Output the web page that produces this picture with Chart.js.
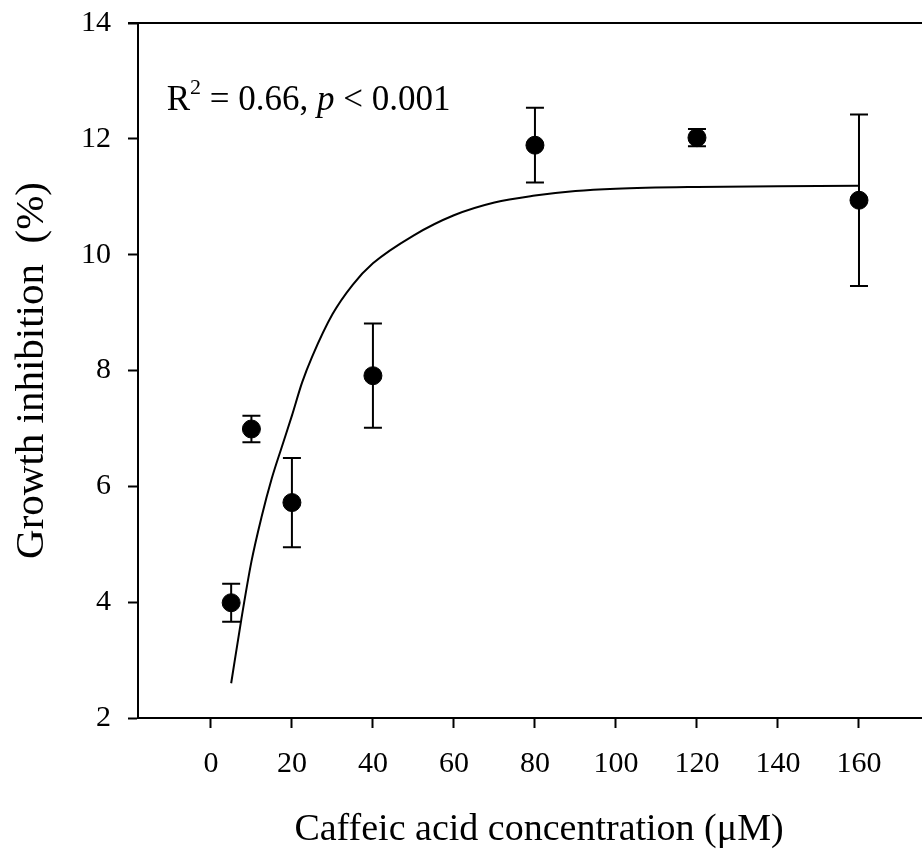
<!DOCTYPE html>
<html>
<head>
<meta charset="utf-8">
<script src="https://cdn.jsdelivr.net/npm/chart.js@4.4.1/dist/chart.umd.min.js"></script>
<style>
  html, body { margin: 0; padding: 0; background: #fff; overflow: hidden; }
  #wrap { width: 950px; height: 853px; }
</style>
</head>
<body>
<div id="wrap"><canvas id="chart" width="950" height="853"></canvas></div>
<script>
// measured points (mean +/- error)
const concentration = [5, 10, 20, 40, 80, 120, 160];
const inhibition    = [3.99, 6.99, 5.72, 7.91, 11.89, 12.02, 10.94];
const inhibitionErr = [0.33, 0.23, 0.77, 0.90, 0.645, 0.15, 1.48];

// fitted curve
const fitX = [5, 7.5, 10, 12.5, 15, 17.5, 20, 22.5, 25, 30, 35, 40, 50, 60, 70, 80, 90, 100, 120, 140, 160];
const fitY = [2.6, 3.7, 4.7, 5.47, 6.13, 6.68, 7.22, 7.79, 8.24, 8.97, 9.48, 9.85, 10.33, 10.68, 10.9, 11.02, 11.1, 11.14, 11.17, 11.18, 11.19];

const xTicks = [0, 20, 40, 60, 80, 100, 120, 140, 160];
const yTicks = [2, 4, 6, 8, 10, 12, 14];

const FONT = '"Liberation Serif", "Times New Roman", serif';
const INK = '#000';

// R^2 label anchor in data units
const noteX = -10.9;
const noteY = 12.5;

Chart.defaults.color = INK;
Chart.defaults.font.family = FONT;

// error bars drawn under the markers
const errorBars = {
  id: 'errorBars',
  beforeDatasetsDraw(chart) {
    const {ctx, scales: {x, y}} = chart;
    ctx.save();
    ctx.strokeStyle = INK;
    ctx.lineWidth = 2;
    concentration.forEach((c, i) => {
      const px = x.getPixelForValue(c);
      const top = y.getPixelForValue(inhibition[i] + inhibitionErr[i]);
      const bot = y.getPixelForValue(inhibition[i] - inhibitionErr[i]);
      ctx.beginPath();
      ctx.moveTo(px, top); ctx.lineTo(px, bot);
      ctx.moveTo(px - 9, top); ctx.lineTo(px + 9, top);
      ctx.moveTo(px - 9, bot); ctx.lineTo(px + 9, bot);
      ctx.stroke();
    });
    ctx.restore();
  }
};

// top frame line + statistics note
const frameAndNote = {
  id: 'frameAndNote',
  afterDraw(chart) {
    const {ctx, chartArea, scales: {x, y}} = chart;
    ctx.save();
    ctx.strokeStyle = INK;
    ctx.lineWidth = 2;
    ctx.beginPath();
    ctx.moveTo(chartArea.left - 10, chartArea.top);
    ctx.lineTo(chartArea.right, chartArea.top);
    ctx.stroke();

    let cx = x.getPixelForValue(noteX);
    const base = y.getPixelForValue(noteY);
    ctx.fillStyle = INK;
    ctx.textBaseline = 'alphabetic';
    const part = (txt, font, dy) => {
      ctx.font = font;
      ctx.fillText(txt, cx, base + (dy || 0));
      cx += ctx.measureText(txt).width;
    };
    part('R', '35px ' + FONT);
    part('2', '22px ' + FONT, -16);
    part(' = 0.66, ', '35px ' + FONT);
    part('p', 'italic 35px ' + FONT);
    part(' < 0.001', '35px ' + FONT);
    ctx.restore();
  }
};

new Chart(document.getElementById('chart'), {
  type: 'scatter',
  data: {
    datasets: [
      {
        type: 'line',
        data: fitX.map((v, i) => ({x: v, y: fitY[i]})),
        borderColor: INK,
        borderWidth: 2,
        pointRadius: 0,
        fill: false,
        cubicInterpolationMode: 'monotone'
      },
      {
        data: concentration.map((v, i) => ({x: v, y: inhibition[i]})),
        backgroundColor: INK,
        borderColor: INK,
        pointRadius: 9,
        pointHoverRadius: 9
      }
    ]
  },
  options: {
    responsive: false,
    animation: false,
    layout: {padding: {top: 23, right: 0, left: 0, bottom: 0}},
    plugins: {legend: {display: false}, tooltip: {enabled: false}},
    scales: {
      x: {
        type: 'linear',
        min: -18,
        max: 180,
        afterBuildTicks: s => { s.ticks = xTicks.map(v => ({value: v})); },
        afterFit: s => { s.height = 135; s.paddingLeft = 0; s.paddingRight = 0; },
        grid: {drawOnChartArea: false, drawTicks: true, tickLength: 10, tickColor: INK, tickWidth: 2},
        border: {display: true, color: INK, width: 2},
        ticks: {font: {size: 30, family: FONT}, color: INK, padding: 18, maxRotation: 0},
        title: {display: true, text: 'Caffeic acid concentration (μM)', font: {size: 38, family: FONT}, color: INK, padding: {top: 14, bottom: 0}}
      },
      y: {
        type: 'linear',
        min: 2,
        max: 14,
        afterBuildTicks: s => { s.ticks = yTicks.map(v => ({value: v})); },
        afterFit: s => { s.width = 138; s.paddingTop = 0; s.paddingBottom = 0; },
        grid: {drawOnChartArea: false, drawTicks: true, tickLength: 10, tickColor: INK, tickWidth: 2},
        border: {display: true, color: INK, width: 2},
        ticks: {font: {size: 30, family: FONT}, color: INK, padding: 17},
        title: {display: true, text: 'Growth inhibition  (%)', font: {size: 41, family: FONT}, color: INK, padding: {top: 8, bottom: 0}}
      }
    }
  },
  plugins: [errorBars, frameAndNote]
});
</script>
</body>
</html>
